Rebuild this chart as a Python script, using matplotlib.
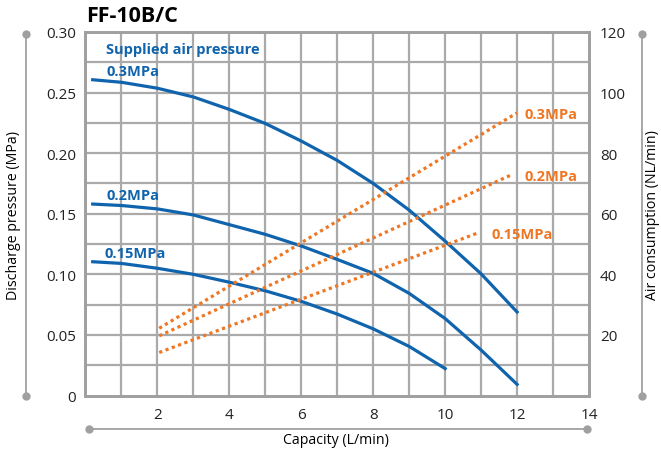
import numpy as np
import matplotlib.pyplot as plt
from matplotlib.lines import Line2D

plt.rcParams['font.family'] = ['Open Sans', 'DejaVu Sans']

# discharge pressure curves (left axis, MPa)
x_03 = [0.2, 1, 2, 3, 4, 5, 6, 7, 8, 9, 10, 11, 12]
p_03 = [0.2606, 0.2585, 0.2536, 0.2464, 0.2361, 0.2245, 0.210, 0.194, 0.175, 0.153, 0.1274, 0.1004, 0.0689]
x_02 = [0.2, 1, 2, 3, 4, 5, 6, 7, 8, 9, 10, 11, 12]
p_02 = [0.158, 0.1568, 0.154, 0.149, 0.141, 0.133, 0.1234, 0.1123, 0.1008, 0.0843, 0.0635, 0.0375, 0.0092]
x_015 = [0.2, 1, 2, 3, 4, 5, 6, 7, 8, 9, 10]
p_015 = [0.1104, 0.109, 0.105, 0.100, 0.0935, 0.0864, 0.0777, 0.0672, 0.055, 0.0405, 0.0222]

# air consumption lines (right axis, NL/min)
ax_03 = [2.05, 12]
air_03 = [22.2, 93.3]
ax_02 = [2.05, 11.87]
air_02 = [19.7, 73.0]
ax_015 = [2.05, 10.94]
air_015 = [14.2, 53.8]

blue = '#0f64ad'
orange = '#ef7622'
grey = '#a0a0a0'

fig = plt.figure(figsize=(6.61, 4.56), dpi=100)
ax = fig.add_axes([85.5/661, 1-396.5/456, 503.5/661, 363.5/456])
ax2 = ax.twinx()

ax.set_xlim(0, 14)
ax.set_ylim(0, 0.30)
ax2.set_ylim(0, 120)
ax.set_xticks(np.arange(0, 15, 1))
ax.set_xticklabels(['' if i % 2 or i == 0 else str(i) for i in range(15)])
ax.set_yticks(np.arange(0, 0.301, 0.025))
ax.set_yticklabels(['0' if i == 0 else ('%.2f' % (i*0.025) if i % 2 == 0 else '') for i in range(13)])
ax2.set_yticks(np.arange(0, 121, 10))
ax2.set_yticklabels(['' if (i % 2 or i == 0) else str(i*10) for i in range(13)])
for a in (ax, ax2):
    a.tick_params(length=0, labelsize=11, colors='#222222')
    for s in a.spines.values():
        s.set_color(grey)
        s.set_linewidth(2)
ax.tick_params(axis='x', pad=8)
ax.tick_params(axis='y', pad=7)
ax2.tick_params(axis='y', pad=8)

# grid
for gx in range(1, 14):
    ax.plot([gx, gx], [0, 0.30], color='#aaaaaa', lw=1.6, zorder=1, solid_capstyle='butt')
for gy in np.arange(0.025, 0.30, 0.025):
    ax.plot([0, 14], [gy, gy], color='#aaaaaa', lw=1.6, zorder=1, solid_capstyle='butt')

ax.plot(x_03, p_03, color=blue, lw=2.3, solid_joinstyle='round', zorder=3)
ax.plot(x_02, p_02, color=blue, lw=2.3, solid_joinstyle='round', zorder=3)
ax.plot(x_015, p_015, color=blue, lw=2.3, solid_joinstyle='round', zorder=3)
dots = (0, (1, 1.1))
ax2.plot(ax_03, air_03, color=orange, lw=2.3, ls=dots)
ax2.plot(ax_02, air_02, color=orange, lw=2.3, ls=dots)
ax2.plot(ax_015, air_015, color=orange, lw=2.3, ls=dots)

lab = dict(fontsize=10.5, fontweight='bold', va='center')
ax.text(0.58, 0.2862, 'Supplied air pressure', color=blue, ha='left', **lab)
ax.text(0.58, 0.2680, '0.3MPa', color=blue, ha='left', **lab)
ax.text(0.58, 0.1656, '0.2MPa', color=blue, ha='left', **lab)
ax.text(0.53, 0.1172, '0.15MPa', color=blue, ha='left', **lab)
ax2.text(12.22, 92.9, '0.3MPa', color=orange, ha='left', **lab)
ax2.text(12.2, 72.5, '0.2MPa', color=orange, ha='left', **lab)
ax2.text(11.28, 53.3, '0.15MPa', color=orange, ha='left', **lab)

fig.text(86/661, 1-16/456, 'FF-10B/C', fontsize=15.5, fontweight='bold', va='center', ha='left')
fig.text(14/661, 1-215/456, 'Discharge pressure (MPa)', rotation=90, fontsize=10.2, va='center', ha='center')
fig.text(653/661, 1-215/456, 'Air consumption (NL/min)', rotation=90, fontsize=10.2, va='center', ha='center')
fig.text(336/661, 1-441/456, 'Capacity (L/min)', fontsize=10.2, va='center', ha='center')

# grey bracket lines with end dots
W, H = 661, 456
for xs, ys in [([26, 26], [35, 397]), ([642, 642], [35, 397]), ([89, 587], [430, 430])]:
    fig.add_artist(Line2D([x/W for x in xs], [1-y/H for y in ys], transform=fig.transFigure,
                          color=grey, lw=1.3, marker='o', markersize=6, markeredgewidth=0))

fig.savefig('out.png', dpi=100)
